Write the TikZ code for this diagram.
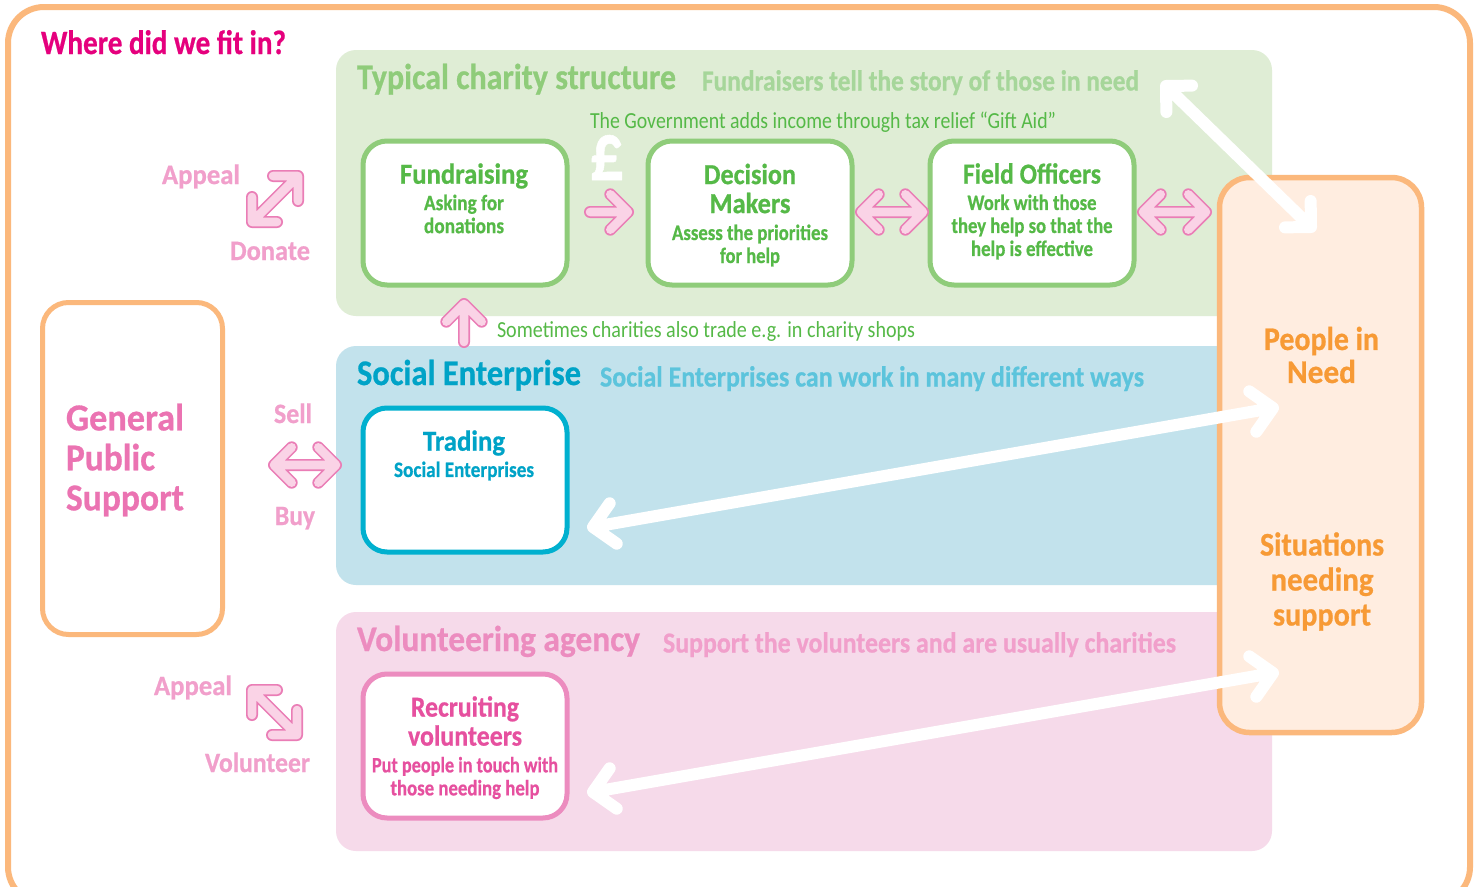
\documentclass[tikz,border=0pt]{standalone}
\usepackage{fontspec}
\usepackage{graphicx}
\usetikzlibrary{calc}
\setmainfont{Carlito}[BoldFeatures={FakeBold=0.7}]
\definecolor{frameor}{HTML}{FBB87C}
\definecolor{panelgr}{HTML}{DFEDD5}
\definecolor{panelbl}{HTML}{C2E2EC}
\definecolor{panelpk}{HTML}{F6DAEA}
\definecolor{needfill}{HTML}{FFEDE0}
\definecolor{boxgr}{HTML}{8FCC7A}
\definecolor{boxbl}{HTML}{00B0CF}
\definecolor{boxpk}{HTML}{EC8CBF}
\definecolor{txtgr}{HTML}{55B947}
\definecolor{subgr}{HTML}{A6D69A}
\definecolor{txtbl}{HTML}{00A3C7}
\definecolor{subbl}{HTML}{5CC4DC}
\definecolor{txtpk}{HTML}{E6509F}
\definecolor{subpk}{HTML}{F19FCB}
\definecolor{hotpk}{HTML}{E5007D}
\definecolor{txtor}{HTML}{F79A35}
\definecolor{arrowo}{HTML}{EA7DB6}
\definecolor{arrowi}{HTML}{FAD3E6}
\newcommand\fw[2]{\resizebox{#1pt}{\height}{#2}}
\newcommand\fnt[2]{\fontsize{#1}{#2}\selectfont}
\newcommand\headpath[3]{(#1) -- (#2) ($(#2)!#3pt!45:(#1)$) -- (#2) -- ($(#2)!#3pt!-45:(#1)$)}
\newcommand\onepink[2]{%
  \draw[pinkout] \headpath{#1}{#2}{25};
  \draw[pinkin] \headpath{#1}{#2}{25};}
\newcommand\twopink[2]{%
  \draw[pinkout] \headpath{#1}{#2}{25} \headpath{#2}{#1}{25};
  \draw[pinkin] \headpath{#1}{#2}{25} \headpath{#2}{#1}{25};}
\newcommand\twowhite[3]{\draw[whitearrow] \headpath{#1}{#2}{#3} \headpath{#2}{#1}{#3};}
\tikzset{
  panel/.style={rounded corners=20pt, inner sep=0pt, draw=none},
  card/.style={draw=#1, fill=white, line width=5pt, rounded corners=24pt, minimum width=204pt, minimum height=144pt, inner sep=0pt},
  tall/.style={draw=frameor, line width=5pt, rounded corners=26pt, inner sep=0pt},
  pinkout/.style={draw=arrowo, line width=12pt, line cap=round, line join=round},
  pinkin/.style={draw=arrowi, line width=8.6pt, line cap=round, line join=round},
  whitearrow/.style={draw=white, line width=12pt, line cap=round, line join=round},
  lab/.style={inner sep=0pt, outer sep=0pt, align=center},
  heading/.style={lab, anchor=base west, font=\bfseries\fnt{36}{36}},
  subhead/.style={lab, anchor=base west, font=\bfseries\fnt{29}{29}},
  note/.style={lab, anchor=base west, font=\fnt{23}{23}, text=txtgr},
  cardtitle/.style={lab, font=\bfseries\fnt{29}{29}},
  cardbody/.style={lab, font=\bfseries\fnt{22}{23}},
  sidelab/.style={lab, anchor=base, font=\bfseries\fnt{28}{28}, text=subpk},
}
\begin{document}
\begin{tikzpicture}[x=1pt,y=-1pt]
\useasboundingbox (0,0) rectangle (1477,886);
\clip (0,0) rectangle (1477,886);
\fill[white] (0,0) rectangle (1477,886);
\node[draw=frameor, line width=6pt, rounded corners=36pt, minimum width=1462pt, minimum height=896pt, inner sep=0pt] (frame) at (739,455) {};
% panels
\node[panel, fill=panelgr, minimum width=936pt, minimum height=266pt] (pgreen) at (804,183) {};
\node[panel, fill=panelbl, minimum width=936pt, minimum height=239pt] (pblue) at (804,465.5) {};
\node[panel, fill=panelpk, minimum width=936pt, minimum height=239pt] (ppink) at (804,731.5) {};
% big boxes
\node[tall, fill=white, minimum width=180pt, minimum height=332pt] (public) at (132.5,468.5) {};
\node[tall, fill=needfill, line width=5.5pt, rounded corners=30pt, minimum width=202pt, minimum height=555pt] (need) at (1320.5,455) {};
% cards
\node[card=boxgr] (fund) at (465,213) {};
\node[card=boxgr] (dec) at (750,213) {};
\node[card=boxgr] (field) at (1032,213) {};
\node[card=boxbl] (trade) at (465,480) {};
\node[card=boxpk] (recruit) at (465,746) {};
% free arrow ends
\coordinate (a1) at (252,222); \coordinate (a2) at (298,176);
\coordinate (b1) at (274,465); \coordinate (b2) at (336,465);
\coordinate (c1) at (252,690); \coordinate (c2) at (297,735);
\coordinate (d1) at (590,212); \coordinate (d2) at (628,212);
\coordinate (e1) at (861,212); \coordinate (e2) at (923,212);
\coordinate (f1) at (1143,212); \coordinate (f2) at (1206,212);
\coordinate (g1) at (464,342); \coordinate (g2) at (464,304);
\coordinate (h1) at (1166,86); \coordinate (h2) at (1311,227);
\coordinate (i1) at (593,527); \coordinate (i2) at (1273,408);
\coordinate (j1) at (593,792); \coordinate (j2) at (1273,673);
\twopink{a1}{a2}
\twopink{b1}{b2}
\twopink{c1}{c2}
\onepink{d1}{d2}
\twopink{e1}{e2}
\twopink{f1}{f2}
\onepink{g1}{g2}
\twowhite{h1}{h2}{26}
\twowhite{i1}{i2}{29}
\twowhite{j1}{j2}{29}
% headings
\node[lab, anchor=base west, font=\bfseries\fnt{34}{34}, text=hotpk] (title) at (41,54) {\fw{245}{Where did we fit in?}};
\node[heading, text=boxgr] (h-green) at (357,89) {\fw{319}{Typical charity structure}};
\node[subhead, text=subgr] (s-green) at (702,90.5) {\fw{437}{Fundraisers tell the story of those in need}};
\node[note] (n-gov) at (590,128) {\fw{466}{The Government adds income through tax relief “Gift Aid”}};
\node[note] (n-trade) at (497,337) {\fw{418}{Sometimes charities also trade e.g. in charity shops}};
\node[lab, anchor=base, font=\bfseries\fnt{70}{70}, text=white] (pound) at (607,180) {\smash{\resizebox{34pt}{45pt}{£}}};
\node[heading, text=txtbl] (h-blue) at (357,385) {\fw{224}{Social Enterprise}};
\node[subhead, text=subbl] (s-blue) at (600,386.5) {\fw{544}{Social Enterprises can work in many different ways}};
\node[heading, text=boxpk] (h-pink) at (357,651) {\fw{283}{Volunteering agency}};
\node[subhead, text=subpk] (s-pink) at (663,652.5) {\fw{513}{Support the volunteers and are usually charities}};
% card text
\node[cardtitle, text=txtgr] (t1) at (464,176) {\fw{128}{Fundraising}};
\node[cardbody, text=txtgr] (t2) at (464,214) {\fw{80}{Asking for}\\\fw{80}{donations}};
\node[cardtitle, text=txtgr] (t3) at (750,188.5) {\fw{92}{Decision}\\\fw{81}{Makers}};
\node[cardbody, text=txtgr] (t4) at (750,245.5) {\fw{156}{Assess the priorities}\\\fw{60}{for help}};
\node[cardtitle, text=txtgr] (t5) at (1032,173.5) {\fw{138}{Field Officers}};
\node[cardbody, text=txtgr] (t6) at (1032,227) {\fw{129}{Work with those}\\\fw{161}{they help so that the}\\\fw{122}{help is effective}};
\node[cardtitle, text=txtbl] (t7) at (464,443) {\fw{82}{Trading}};
\node[cardbody, text=txtbl] (t8) at (464,471) {\fw{140}{Social Enterprises}};
\node[cardtitle, text=txtpk] (t9) at (465,721) {\fw{108}{Recruiting}\\\fw{114}{volunteers}};
\node[cardbody, text=txtpk] (t10) at (465,778) {\fw{186}{Put people in touch with}\\\fw{149}{those needing help}};
% tall box text
\node[lab, align=left, font=\bfseries\fnt{38}{40}, text=txtpk!80!white] (t11) at (125,460) {\fw{118}{General}\\\fw{89}{Public}\\\fw{118}{Support}};
\node[lab, font=\bfseries\fnt{33}{33}, text=txtor] (t12) at (1321.5,355) {\fw{115}{People in}\\\fw{69}{Need}};
\node[lab, font=\bfseries\fnt{33}{35}, text=txtor] (t13) at (1322,581.5) {\fw{124}{Situations}\\\fw{103}{needing}\\\fw{98}{support}};
% side labels
\node[sidelab] (l1) at (201,184) {\fw{78}{Appeal}};
\node[sidelab] (l2) at (270,260) {\fw{80}{Donate}};
\node[sidelab] (l3) at (293,423) {\fw{38}{Sell}};
\node[sidelab] (l4) at (295,525) {\fw{40}{Buy}};
\node[sidelab] (l5) at (193,695) {\fw{78}{Appeal}};
\node[sidelab] (l6) at (257.5,772) {\fw{105}{Volunteer}};
\end{tikzpicture}
\end{document}
